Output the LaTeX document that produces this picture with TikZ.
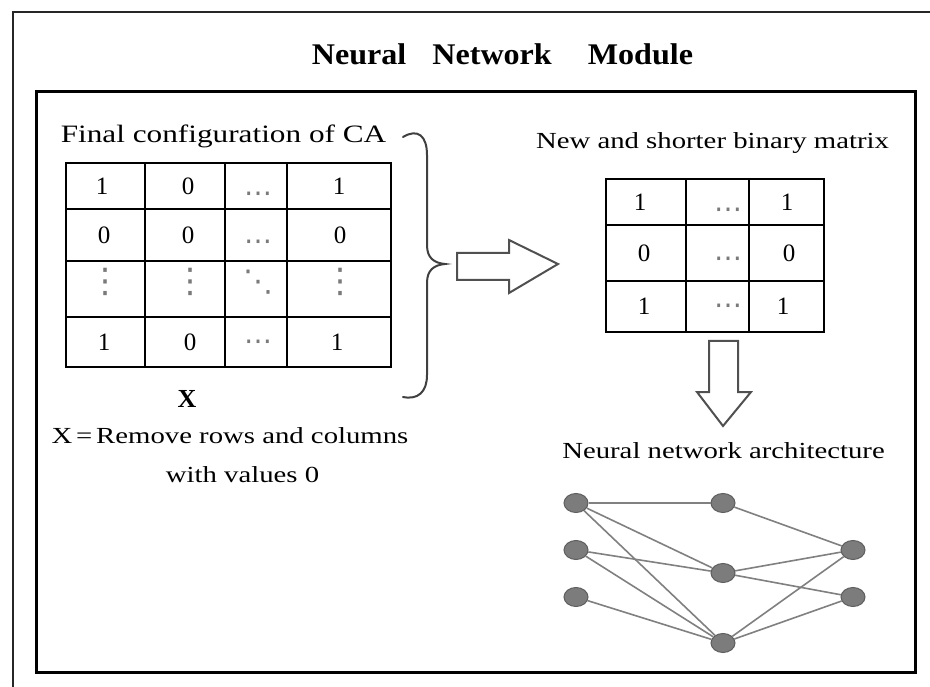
\documentclass[tikz,border=0pt]{standalone}
\usepackage{fontspec}
\newfontfamily\wfont{Liberation Serif}[FakeStretch=1.25]
\newfontfamily\tfont{Liberation Serif}[FakeStretch=1.07]
\newfontfamily\dfont{Liberation Serif}
\newfontfamily\symfont{DejaVu Sans}
\usetikzlibrary{shapes.geometric}
\definecolor{nfill}{HTML}{7C7C7C}
\definecolor{nedge}{HTML}{5E5E5E}
\definecolor{synC}{HTML}{808080}
\definecolor{arrC}{HTML}{505050}
\definecolor{braceC}{HTML}{404040}
\definecolor{dotC}{HTML}{7A7A7A}
\begin{document}
\begin{tikzpicture}[x=1pt,y=-1pt,
  lbl/.style={inner sep=0pt, anchor=base, font=\wfont\fontsize{23}{28}\selectfont},
  cell/.style={inner sep=0pt, font=\dfont\fontsize{25}{28}\selectfont},
  hdot/.style={inner sep=0pt, text=dotC, font=\symfont\fontsize{28}{30}\selectfont},
  vdot/.style={inner sep=0pt, text=dotC, font=\symfont\fontsize{34}{36}\selectfont},
  neuron/.style={ellipse, minimum width=24pt, minimum height=19pt, inner sep=0pt, fill=nfill, draw=nedge, line width=1pt},
  syn/.style={draw=synC, line width=1.6pt},
  blockarrow/.style={draw=arrC, line width=2pt, fill=white, line join=miter},
  gridline/.style={line width=1.6pt, line cap=rect}]
\useasboundingbox (0,0) rectangle (930,687);
\fill[white] (0,0) rectangle (930,687);

% outer frame (only top and left visible)
\draw[line width=2pt, draw=black!85] (13,687) -- (13,12) -- (930,12);
% inner frame
\draw[line width=3pt] (36,92) rectangle (915,672);

% title
\node[inner sep=0pt, anchor=base, font=\tfont\bfseries\fontsize{30}{34}\selectfont] (title) at (502.5,65)
  {Neural\hspace{26pt}Network\hspace{36pt}Module};

% left matrix
\node[lbl, font=\wfont\fontsize{25}{30}\selectfont] (fc) at (223.5,143) {Final configuration of CA};
\draw[gridline] (66,163) rectangle (391,367);
\foreach \x in {145,225,287} \draw[gridline] (\x,163) -- (\x,367);
\foreach \y in {209,261,317} \draw[gridline] (66,\y) -- (391,\y);
\node[cell] (a11) at (102,186) {1};
\node[cell] (a12) at (188,186) {0};
\node[hdot] (a13) at (258,197) {⋯};
\node[cell] (a14) at (339,186) {1};
\node[cell] (a21) at (104,235) {0};
\node[cell] (a22) at (188,235) {0};
\node[hdot] (a23) at (258,245) {⋯};
\node[cell] (a24) at (340,235) {0};
\node[vdot] (a31) at (105,282) {⋮};
\node[vdot] (a32) at (190,282) {⋮};
\node[vdot, font=\symfont\fontsize{30}{32}\selectfont] (a33) at (258,282) {⋱};
\node[vdot] (a34) at (340,282) {⋮};
\node[cell] (a41) at (104,342) {1};
\node[cell] (a42) at (190,342) {0};
\node[hdot] (a43) at (258,345) {⋯};
\node[cell] (a44) at (337,342) {1};

\node[inner sep=0pt, anchor=base, font=\dfont\bfseries\fontsize{26}{30}\selectfont] (xl) at (187,407) {X};
\node[lbl] (rm1) at (230,443) {X\,=\,Remove rows and columns};
\node[lbl] (rm2) at (242.5,482) {with values 0};

% brace
\draw[draw=braceC, line width=2pt, line cap=round]
  (403,137) .. controls (418,128) and (427,136) .. (427,155)
  -- (427,245) .. controls (427,258) and (434,263) .. (445,264)
  .. controls (434,265) and (427,270) .. (427,283)
  -- (427,375) .. controls (427,392) and (418,400) .. (403,397);

% right block arrow
\draw[blockarrow] (457,253) -- (509,253) -- (509,240) -- (558,264) -- (509,293) -- (509,280) -- (457,280) -- cycle;

% right matrix
\node[lbl] (nm) at (712.5,149) {New and shorter binary matrix};
\draw[gridline] (606,179) rectangle (824,332);
\foreach \x in {686,749} \draw[gridline] (\x,179) -- (\x,332);
\foreach \y in {225,281} \draw[gridline] (606,\y) -- (824,\y);
\node[cell] (b11) at (640,202) {1};
\node[hdot] (b12) at (728,213) {⋯};
\node[cell] (b13) at (787,202) {1};
\node[cell] (b21) at (644,253) {0};
\node[hdot] (b22) at (728,262) {⋯};
\node[cell] (b23) at (789,253) {0};
\node[cell] (b31) at (644,306) {1};
\node[hdot] (b32) at (728,309) {⋯};
\node[cell] (b33) at (783,306) {1};

% down block arrow
\draw[blockarrow] (709,341) -- (738,341) -- (738,392) -- (751,392) -- (723,426) -- (697,392) -- (709,392) -- cycle;

% neural network
\node[lbl] (na) at (723.5,458) {Neural network architecture};
\node[neuron] (i1) at (576,503) {};
\node[neuron] (i2) at (576,550) {};
\node[neuron] (i3) at (576,597) {};
\node[neuron] (h1) at (723,503) {};
\node[neuron] (h2) at (723,573) {};
\node[neuron] (h3) at (723,643) {};
\node[neuron] (o1) at (853,550) {};
\node[neuron] (o2) at (853,597) {};
\draw[syn] (i1) -- (h1);
\draw[syn] (i1) -- (h2);
\draw[syn] (i1) -- (h3);
\draw[syn] (i2) -- (h2);
\draw[syn] (i2) -- (h3);
\draw[syn] (i3) -- (h3);
\draw[syn] (h1) -- (o1);
\draw[syn] (h2) -- (o1);
\draw[syn] (h2) -- (o2);
\draw[syn] (h3) -- (o1);
\draw[syn] (h3) -- (o2);
\end{tikzpicture}
\end{document}
